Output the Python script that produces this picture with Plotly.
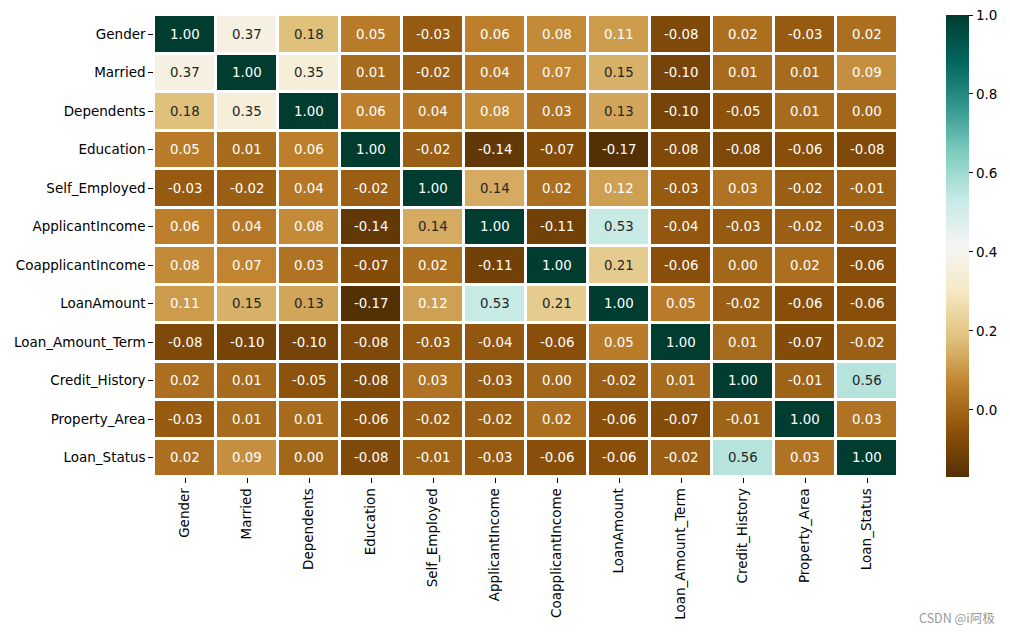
import plotly.graph_objects as go
from plotly.colors import sample_colorscale

labels = ["Gender", "Married", "Dependents", "Education", "Self_Employed",
          "ApplicantIncome", "CoapplicantIncome", "LoanAmount", "Loan_Amount_Term",
          "Credit_History", "Property_Area", "Loan_Status"]

corr = [
    [1.00, 0.37, 0.18, 0.05, -0.03, 0.06, 0.08, 0.11, -0.08, 0.02, -0.03, 0.02],
    [0.37, 1.00, 0.35, 0.01, -0.02, 0.04, 0.07, 0.15, -0.10, 0.01, 0.01, 0.09],
    [0.18, 0.35, 1.00, 0.06, 0.04, 0.08, 0.03, 0.13, -0.10, -0.05, 0.01, 0.00],
    [0.05, 0.01, 0.06, 1.00, -0.02, -0.14, -0.07, -0.17, -0.08, -0.08, -0.06, -0.08],
    [-0.03, -0.02, 0.04, -0.02, 1.00, 0.14, 0.02, 0.12, -0.03, 0.03, -0.02, -0.01],
    [0.06, 0.04, 0.08, -0.14, 0.14, 1.00, -0.11, 0.53, -0.04, -0.03, -0.02, -0.03],
    [0.08, 0.07, 0.03, -0.07, 0.02, -0.11, 1.00, 0.21, -0.06, 0.00, 0.02, -0.06],
    [0.11, 0.15, 0.13, -0.17, 0.12, 0.53, 0.21, 1.00, 0.05, -0.02, -0.06, -0.06],
    [-0.08, -0.10, -0.10, -0.08, -0.03, -0.04, -0.06, 0.05, 1.00, 0.01, -0.07, -0.02],
    [0.02, 0.01, -0.05, -0.08, 0.03, -0.03, 0.00, -0.02, 0.01, 1.00, -0.01, 0.56],
    [-0.03, 0.01, 0.01, -0.06, -0.02, -0.02, 0.02, -0.06, -0.07, -0.01, 1.00, 0.03],
    [0.02, 0.09, 0.00, -0.08, -0.01, -0.03, -0.06, -0.06, -0.02, 0.56, 0.03, 1.00],
]

colorbar_ticks = [0.0, 0.2, 0.4, 0.6, 0.8, 1.0]

zmin = min(min(r) for r in corr)
zmax = 1.0
FONT = "DejaVu Sans"
FS = 13.5

W, H = 1010, 632
ML, MR, MT, MB = 154, 112, 15, 155
PW, PH = W - ML - MR, H - MT - MB


def lum(c):
    s = c.strip("rgb()").split(",")
    vals = [float(v) / 255 for v in s]
    lin = [v / 12.92 if v <= 0.03928 else ((v + 0.055) / 1.055) ** 2.4 for v in vals]
    return 0.2126 * lin[0] + 0.7152 * lin[1] + 0.0722 * lin[2]


fig = go.Figure()
fig.add_trace(go.Heatmap(
    z=corr, x=labels, y=labels,
    colorscale="BrBG", zmin=zmin, zmax=zmax,
    xgap=3, ygap=3, hoverinfo="skip",
    colorbar=dict(
        x=(946 - ML) / PW, xanchor="left", xref="paper",
        y=0.5, yanchor="middle", len=1.0, lenmode="fraction",
        thickness=23, outlinewidth=0, xpad=0, ypad=0,
        tickvals=colorbar_ticks, ticktext=[f"{t:.1f}" for t in colorbar_ticks],
        ticks="outside", ticklen=4.7, tickwidth=1, tickcolor="#000",
        tickfont=dict(family=FONT, size=FS, color="#000"),
    ),
))

annotations = []
for i, rl in enumerate(labels):
    for j, cl in enumerate(labels):
        v = corr[i][j]
        t = (v - zmin) / (zmax - zmin)
        col = sample_colorscale("BrBG", [t])[0]
        tc = "#262626" if lum(col) > 0.408 else "white"
        annotations.append(dict(
            x=cl, y=rl, xref="x", yref="y", text=f"{v:.2f}", showarrow=False,
            font=dict(family=FONT, size=13.33, color=tc),
        ))

annotations.append(dict(
    x=(997 - ML) / PW, y=(H - MB - 617) / PH, xref="paper", yref="paper",
    text="CSDN @i阿极", showarrow=False,
    font=dict(family="Noto Sans CJK SC", size=12.5, color="#999"),
    xanchor="right", yanchor="middle",
))

fig.update_layout(
    width=W, height=H,
    margin=dict(l=ML, r=MR, t=MT, b=MB, autoexpand=False),
    plot_bgcolor="white", paper_bgcolor="white",
    annotations=annotations,
    xaxis=dict(
        tickangle=-90, ticks="outside", ticklen=4.7, tickcolor="#000",
        tickfont=dict(family=FONT, size=FS, color="#000"),
        showgrid=False, zeroline=False, showline=False,
    ),
    yaxis=dict(
        autorange="reversed", ticks="outside", ticklen=4.7, tickcolor="#000",
        tickfont=dict(family=FONT, size=FS, color="#000"),
        showgrid=False, zeroline=False, showline=False,
    ),
)

fig.write_html("out.html", config={"displayModeBar": False},
               post_script="document.body.style.margin='0';")
